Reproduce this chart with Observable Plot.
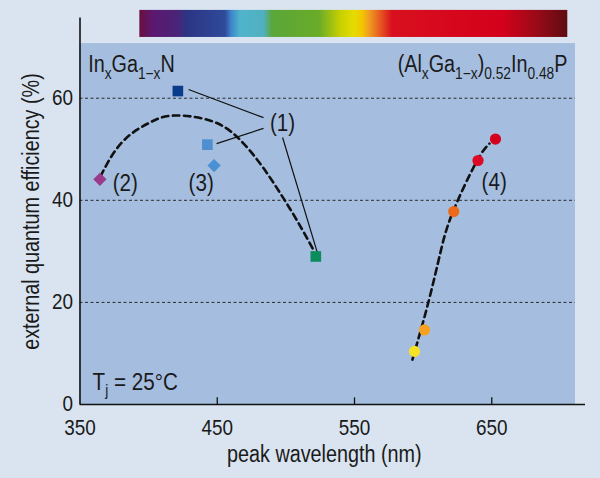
<!DOCTYPE html>
<html><head><meta charset="utf-8">
<script src="https://cdn.jsdelivr.net/npm/d3@7"></script>
<script src="https://cdn.jsdelivr.net/npm/@observablehq/plot@0.6"></script>
<style>body{margin:0;background:#d9e4f0}</style>
</head><body><div id="chart"></div>
<script>
// ---- data ----
const xTicks = [350, 450, 550, 650];
const xTickMarks = [450, 550, 650];
const yTicks = [0, 20, 40, 60];
const gridValues = [20, 40, 60];

// InGaN squares (1)
const squares = [
  {nm: 421.3, eqe: 61.4, color: "#0b3c8c"},
  {nm: 442.8, eqe: 50.9, color: "#4f8fd0"},
  {nm: 521.8, eqe: 29.0, color: "#0b8c5c"}
];
// diamonds (2), (3)
const diamonds = [
  {nm: 364.5, eqe: 44.1, color: "#9a3a8a"},
  {nm: 447.7, eqe: 46.8, color: "#4a90d2"}
];
// AlGaInP circles (4)
const circles = [
  {nm: 652.7, eqe: 52.0, color: "#d4001e"},
  {nm: 640.0, eqe: 47.8, color: "#dc0a22"},
  {nm: 622.3, eqe: 37.8, color: "#ec6a1a"},
  {nm: 601.0, eqe: 14.6, color: "#f8a020"},
  {nm: 593.7, eqe: 10.4, color: "#f6e226"}
];
// dashed trend curves
const ingaCurve = [
  [364.9, 44.7], [374.6, 49.3], [386.8, 52.9], [401.4, 55.3], [418.3, 56.6],
  [445.1, 55.6], [464.5, 52.4], [481.5, 47.1], [496.1, 41.3], [508.2, 36.0], [520.3, 30.2]
];
const algaCurve = [
  [592.2, 8.8], [603.8, 20.0], [612.8, 30.0], [621.8, 37.8], [638.8, 47.5], [648.3, 51.1]
];
// leader lines for (1)
const leaders = [
  {x1: 483.7, y1: 56.2, x2: 429.1, y2: 61.7},
  {x1: 483.7, y1: 54.1, x2: 449.5, y2: 51.1},
  {x1: 497.6, y1: 52.3, x2: 523.1, y2: 29.6}
];
const refLabels = [
  {nm: 497.6, eqe: 55.0, text: "(1)"},
  {nm: 383.0, eqe: 43.3, text: "(2)"},
  {nm: 438.3, eqe: 43.3, text: "(3)"},
  {nm: 651.8, eqe: 43.5, text: "(4)"}
];
const spectrumStops = [
  [0, "#6b0f3e"], [0.03, "#5c1870"], [0.09, "#4a2478"], [0.11, "#2c3584"],
  [0.2, "#2f4a9a"], [0.215, "#3f86cc"], [0.235, "#4fb4cc"], [0.29, "#50b0c0"],
  [0.31, "#5aa63a"], [0.42, "#6aac28"], [0.47, "#c8d000"], [0.5, "#e4dc00"],
  [0.52, "#f2c800"], [0.535, "#f0a020"], [0.56, "#e86020"], [0.59, "#d8101e"],
  [0.85, "#d4001c"], [0.92, "#a00a18"], [1.0, "#5e0c12"]
];
const xLabel = "peak wavelength (nm)";
const yLabel = "external quantum efficiency (%)";

// extents in data units
const panel = {x1: 350, x2: 711, y1: 0, y2: 70.7};
const spectrumBar = {x1: 393.6, x2: 705.4, y1: 71.9, y2: 77.2};
const xMax = 718.3, yMax = 79.14, yAxisTop = 75.7;

const FONT = '"Liberation Sans", Arial, sans-serif';
const NARROW = 0.86;

const chart = Plot.plot({
  width: 600, height: 478,
  marginLeft: 79.5, marginRight: 15, marginTop: 0, marginBottom: 74,
  x: {domain: [350, xMax], axis: null},
  y: {domain: [0, yMax], axis: null},
  style: {background: "#d9e4f0", fontFamily: FONT, fontSize: "23px", color: "#1a1a1a", overflow: "visible"},
  marks: [
    Plot.rect([panel], {x1: "x1", x2: "x2", y1: "y1", y2: "y2", fill: "#a5bee0"}),
    Plot.rect([spectrumBar], {x1: "x1", x2: "x2", y1: "y1", y2: "y2", fill: "url(#spectrum)"}),
    Plot.ruleY(gridValues, {x1: 350, x2: panel.x2, stroke: "#2a2a2a", strokeWidth: 1, strokeDasharray: "3,2.5"}),
    Plot.ruleX([350], {y1: 0, y2: yAxisTop, stroke: "#111", strokeWidth: 1.6}),
    Plot.ruleY([0], {x1: 350, x2: xMax, stroke: "#111", strokeWidth: 1.6}),
    Plot.ruleX(xTickMarks, {y1: 0, y2: 1.3, stroke: "#111", strokeWidth: 1.3}),
    Plot.text(xTicks, {x: d => d, y: -6.0, text: d => String(d), lineAnchor: "bottom", textAnchor: "middle", fill: "#1a1a1a", fontSize: 22}),
    Plot.text(yTicks, {x: 344.9, y: d => d + 0.05, text: d => String(d), lineAnchor: "middle", textAnchor: "end", fill: "#1a1a1a", fontSize: 22}),
    Plot.text([xLabel], {x: 528, y: -11.2, text: d => d, lineAnchor: "bottom", textAnchor: "middle", fill: "#1a1a1a"}),
    Plot.text([yLabel], {x: 319.8, y: 37.8, rotate: -90, text: d => d, lineAnchor: "bottom", textAnchor: "middle", fill: "#1a1a1a"}),
    Plot.line(ingaCurve, {x: d => d[0], y: d => d[1], curve: "natural", stroke: "#111", strokeWidth: 2.6, strokeDasharray: "6.5,4.5"}),
    Plot.line(algaCurve, {x: d => d[0], y: d => d[1], curve: "natural", stroke: "#111", strokeWidth: 2.6, strokeDasharray: "6.5,4.5"}),
    Plot.link(leaders, {x1: "x1", y1: "y1", x2: "x2", y2: "y2", stroke: "#111", strokeWidth: 1.2}),
    Plot.dot(squares, {x: "nm", y: "eqe", fill: "color", symbol: "square", r: 6}),
    Plot.dot(diamonds, {x: "nm", y: "eqe", fill: "color", symbol: "square", r: 5.3, rotate: 45}),
    Plot.dot(circles, {x: "nm", y: "eqe", fill: "color", r: 5.6}),
    Plot.text(refLabels, {x: "nm", y: "eqe", text: "text", lineAnchor: "middle", textAnchor: "middle", fill: "#1a1a1a", fontSize: 24})
  ]
});

const svg = d3.select(chart);
const grad = svg.insert("defs", ":first-child").append("linearGradient")
  .attr("id", "spectrum").attr("x1", "0").attr("x2", "1").attr("y1", "0").attr("y2", "0");
spectrumStops.forEach(([o, c]) => grad.append("stop").attr("offset", o).attr("stop-color", c));

const sx = chart.scale("x"), sy = chart.scale("y");
function richText(nm, eqe, parts, anchor, size, subSize, shift) {
  const t = svg.append("text")
    .attr("x", sx.apply(nm)).attr("y", sy.apply(eqe))
    .attr("text-anchor", anchor).attr("font-family", FONT)
    .attr("font-size", size).attr("fill", "#1a1a1a");
  let lowered = false;
  parts.forEach(([s, sub]) => {
    const ts = t.append("tspan").text(s);
    if (sub && !lowered) { ts.attr("dy", shift); lowered = true; }
    else if (!sub && lowered) { ts.attr("dy", -shift); lowered = false; }
    if (sub) ts.attr("font-size", subSize);
  });
}
richText(356.3, 65.0, [["In", 0], ["x", 1], ["Ga", 0], ["1\u2212x", 1], ["N", 0]], "start", 23, 16, 6.5);
richText(705.5, 65.0, [["(Al", 0], ["x", 1], ["Ga", 0], ["1\u2212x", 1], [")", 0], ["0.52", 1], ["In", 0], ["0.48", 1], ["P", 0]], "end", 23, 16, 6.5);
richText(359.5, 2.75, [["T", 0], ["j", 1], [" = 25\u00B0C", 0]], "start", 24, 16, 6.5);

// condensed lettering, like the reference typeface
svg.selectAll("text").each(function () {
  const tr = this.getAttribute("transform");
  if (tr) {
    this.setAttribute("transform", tr + ` scale(${NARROW},1)`);
  } else {
    const x = +(this.getAttribute("x") || 0), y = +(this.getAttribute("y") || 0);
    this.removeAttribute("x"); this.removeAttribute("y");
    this.setAttribute("transform", `translate(${x},${y}) scale(${NARROW},1)`);
  }
});

document.getElementById("chart").appendChild(chart);
</script>
</body></html>
